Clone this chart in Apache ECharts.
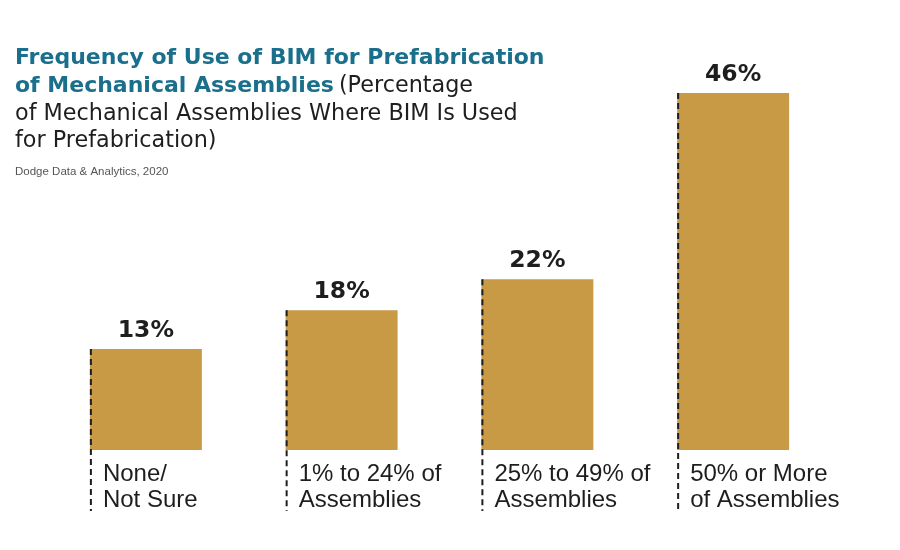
<!DOCTYPE html>
<html>
<head>
<meta charset="utf-8">
<script src="https://cdn.jsdelivr.net/npm/echarts@6/dist/echarts.min.js"></script>
<style>html,body{margin:0;padding:0;background:#fff}#c{width:900px;height:550px}</style>
</head>
<body>
<div id="c"></div>
<script>
const categories = ['None/\nNot Sure', '1% to 24% of\nAssemblies', '25% to 49% of\nAssemblies', '50% or More\nof Assemblies'];
const values = [13, 18, 22, 46];

const chart = echarts.init(document.getElementById('c'), null, {renderer: 'canvas'});
const BAR_FRAC = 0.572;
const FONT = '"Liberation Sans", Arial, Helvetica, sans-serif';
const WIDE = '"DejaVu Sans", "Liberation Sans", sans-serif';

chart.setOption({
  backgroundColor: '#ffffff',
  animation: false,
  title: [{
    left: 10, top: 40,
    text: '{b|Frequency of Use of BIM for Prefabrication}\n{b|of Mechanical Assemblies} {r|(Percentage}\n{r|of Mechanical Assemblies Where BIM Is Used}\n{r|for Prefabrication)}',
    textStyle: {
      rich: {
        b: {fontFamily: WIDE, fontSize: 22, fontWeight: 'bold', color: '#1a6f8c', lineHeight: 27.5},
        r: {fontFamily: WIDE, fontSize: 22.3, fontWeight: 'normal', color: '#1e1e1e', lineHeight: 27.5}
      }
    }
  }, {
    left: 10, top: 161,
    text: 'Dodge Data & Analytics, 2020',
    textStyle: {fontFamily: FONT, fontSize: 11.5, fontWeight: 'normal', color: '#555555'}
  }],
  grid: {left: 48, right: 69, top: 62, bottom: 100},
  xAxis: {
    type: 'category', data: categories,
    axisLine: {show: false}, axisTick: {show: false}, axisLabel: {show: false}, splitLine: {show: false}
  },
  yAxis: {type: 'value', min: 0, max: 50, show: false, splitLine: {show: false}},
  series: [{
    type: 'bar', data: values, barWidth: (BAR_FRAC * 100) + '%', z: 2,
    itemStyle: {color: '#c99a45'},
    label: {
      show: true, position: 'top', distance: 6,
      formatter: p => p.value + '%',
      fontFamily: WIDE, fontSize: 23.5, fontWeight: 'bold', color: '#1e1e1e'
    }
  }, {
    type: 'custom', z: 5,
    data: values.map((v, i) => [i, v]),
    renderItem: function (params, api) {
      const idx = api.value(0);
      const top = api.coord([idx, api.value(1)]);
      const base = api.coord([idx, 0]);
      const bw = api.size([1, 0])[0] * BAR_FRAC;
      const x = top[0] - bw / 2 + 1;
      return {
        type: 'group',
        children: [{
          type: 'line',
          shape: {x1: x, y1: top[1], x2: x, y2: base[1] + 61},
          style: {stroke: '#1e1e1e', lineWidth: 2, lineDash: [6, 4]}
        }, {
          type: 'text',
          style: {
            x: x + 12, y: base[1] + 11,
            text: categories[idx],
            fontFamily: FONT, fontSize: 24, lineHeight: 26,
            fill: '#1e1e1e', align: 'left', verticalAlign: 'top'
          }
        }]
      };
    }
  }]
});
</script>
</body>
</html>
